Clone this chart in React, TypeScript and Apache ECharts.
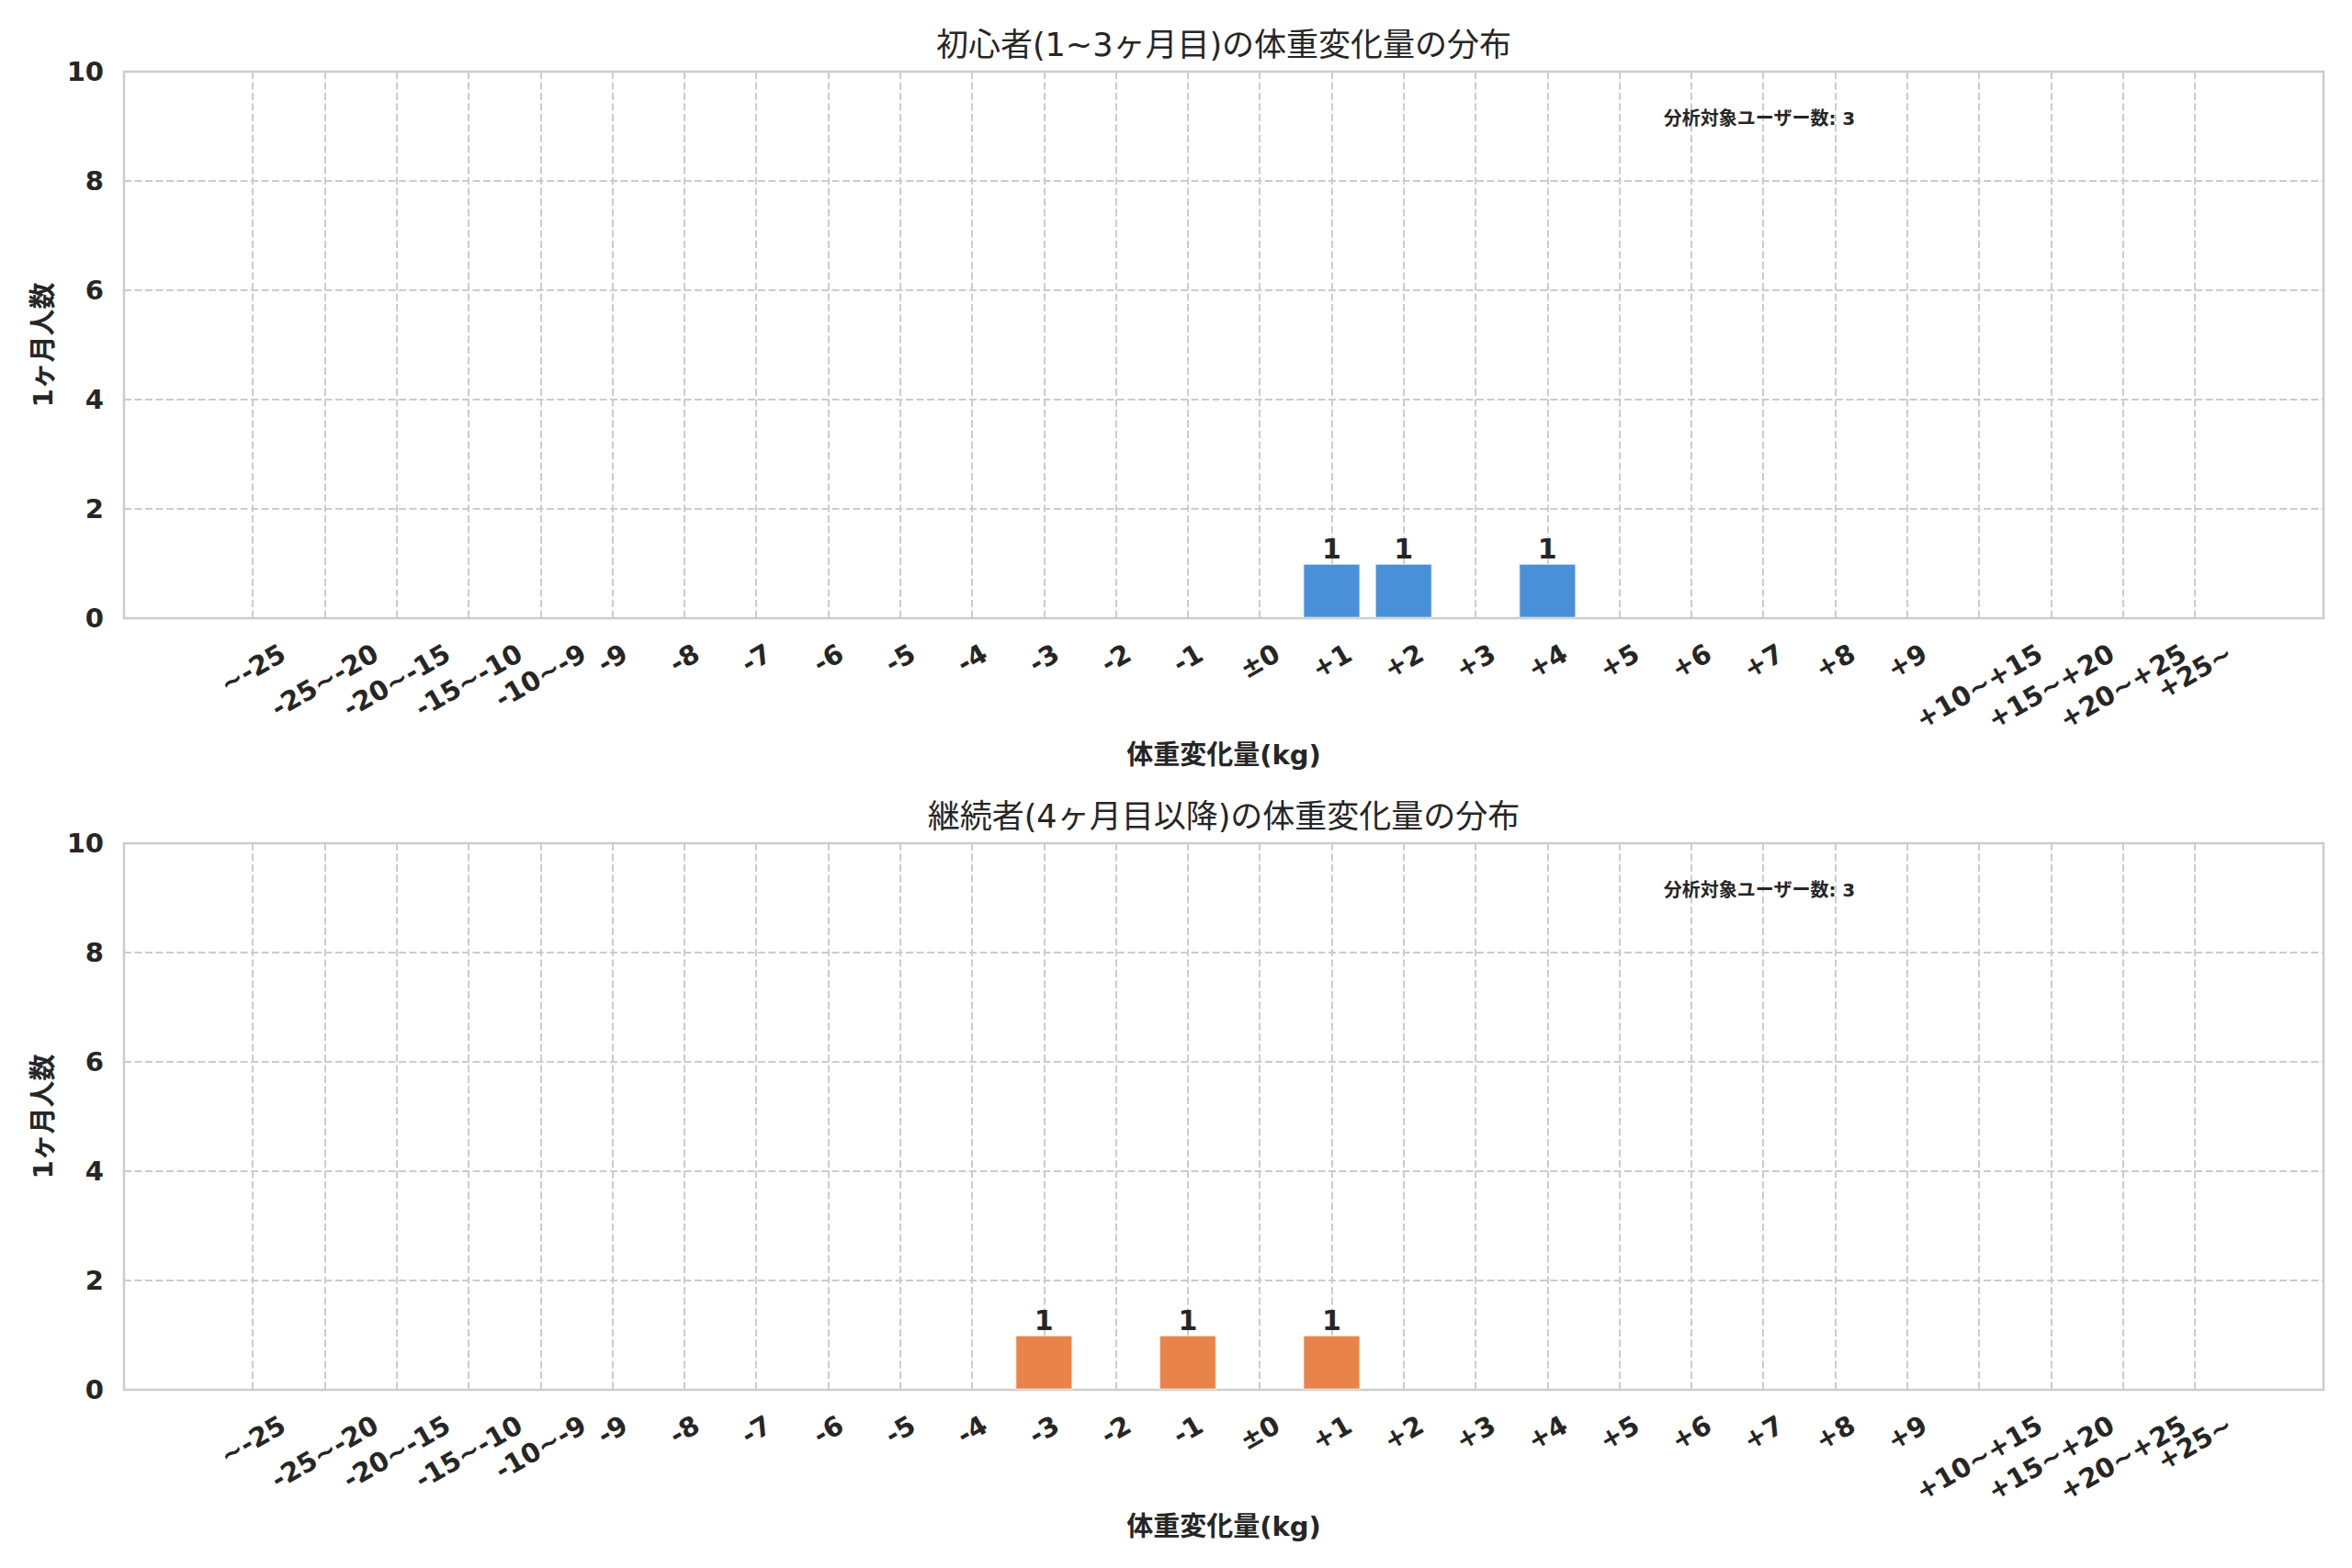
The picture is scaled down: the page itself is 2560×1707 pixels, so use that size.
import React, { useEffect, useRef } from 'react';
import * as echarts from 'echarts';

// ---- data ----
const categories = [
  '~-25', '-25~-20', '-20~-15', '-15~-10', '-10~-9',
  '-9', '-8', '-7', '-6', '-5', '-4', '-3', '-2', '-1',
  '±0',
  '+1', '+2', '+3', '+4', '+5', '+6', '+7', '+8', '+9',
  '+10~+15', '+15~+20', '+20~+25', '+25~',
];
const beginnerCounts = [0, 0, 0, 0, 0, 0, 0, 0, 0, 0, 0, 0, 0, 0, 0, 1, 1, 0, 1, 0, 0, 0, 0, 0, 0, 0, 0, 0];
const continuingCounts = [0, 0, 0, 0, 0, 0, 0, 0, 0, 0, 0, 1, 0, 1, 0, 1, 0, 0, 0, 0, 0, 0, 0, 0, 0, 0, 0, 0];
const panelCounts = [beginnerCounts, continuingCounts];
const panelTitles = [
  '初心者(1~3ヶ月目)の体重変化量の分布',
  '継続者(4ヶ月目以降)の体重変化量の分布',
];
const userTotals = [3, 3];
const annotationLabel = '分析対象ユーザー数';
const xAxisTitle = '体重変化量(kg)';
const yAxisTitle = '1ヶ月人数';
const yMin = 0;
const yMax = 10;
const yInterval = 2;
const barColors = ['#4A90D9', '#E8844A'];

// ---- layout / style ----
const W = 2560;
const H = 1707;
const GRID_LEFT = 135;
const GRID_WIDTH = 2394;
const GRID_HEIGHT = 595;
const GRID_TOPS = [78, 918];
const X_MIN = -1.79;
const X_MAX = 28.79;
const FONT = "'DejaVu Sans', 'Noto Sans CJK JP', sans-serif";
const TEXT = '#262626';
const GRID_COLOR = '#cccccc';
const TICK_FONT = 29;
const LABEL_PAD = 21;
const ROT = Math.PI / 6;

function measure(text: string, size: number): number {
  const c = document.createElement('canvas');
  const ctx = c.getContext('2d');
  if (!ctx) return text.length * size * 0.6;
  ctx.font = `bold ${size}px ${FONT}`;
  return ctx.measureText(text).width;
}

export default function App() {
  const ref = useRef<HTMLDivElement>(null);

  useEffect(() => {
    if (!ref.current) return;
    const chart = echarts.init(ref.current, null, { renderer: 'svg', width: W, height: H });
    const barWidth = (0.8 * GRID_WIDTH) / (X_MAX - X_MIN);
    const idx = categories.map((_, i) => i);

    const option: any = {
      animation: false,
      backgroundColor: '#ffffff',
      title: panelTitles.map((t, p) => ({
        text: t,
        left: GRID_LEFT + GRID_WIDTH / 2,
        top: GRID_TOPS[p] - 47,
        textAlign: 'center',
        padding: 0,
        textStyle: { fontFamily: FONT, fontSize: 35, fontWeight: 'normal', color: TEXT, lineHeight: 36 },
      })),
      grid: GRID_TOPS.map((top) => ({
        left: GRID_LEFT,
        top,
        width: GRID_WIDTH,
        height: GRID_HEIGHT,
        show: true,
        borderColor: GRID_COLOR,
        borderWidth: 2.5,
        backgroundColor: 'transparent',
        containLabel: false,
      })),
      xAxis: GRID_TOPS.map((_, p) => ({
        type: 'value',
        gridIndex: p,
        min: X_MIN,
        max: X_MAX,
        axisLine: { show: false },
        axisTick: { show: false, customValues: idx },
        axisLabel: { show: false, customValues: idx },
        splitLine: { show: true, lineStyle: { color: GRID_COLOR, width: 2, type: [8, 3.5] } },
        name: xAxisTitle,
        nameLocation: 'middle',
        nameGap: 134,
        nameTextStyle: { fontFamily: FONT, fontSize: 29, fontWeight: 'bold', color: TEXT, verticalAlign: 'top' },
      })),
      yAxis: GRID_TOPS.map((_, p) => ({
        type: 'value',
        gridIndex: p,
        min: yMin,
        max: yMax,
        interval: yInterval,
        axisLine: { show: false },
        axisTick: { show: false },
        axisLabel: { fontFamily: FONT, fontSize: TICK_FONT, fontWeight: 'bold', color: TEXT, margin: 22 },
        splitLine: { show: true, lineStyle: { color: GRID_COLOR, width: 2, type: [8, 3.5] } },
        name: yAxisTitle,
        nameLocation: 'middle',
        nameRotate: 90,
        nameGap: 72,
        nameTextStyle: { fontFamily: FONT, fontSize: 29, fontWeight: 'bold', color: TEXT },
      })),
      series: panelCounts.map((counts, p) => ({
        type: 'bar',
        xAxisIndex: p,
        yAxisIndex: p,
        barWidth,
        data: counts.map((v, i) =>
          v > 0 ? { value: [i, v] } : { value: [i, v], itemStyle: { borderWidth: 0, opacity: 0 } }
        ),
        itemStyle: { color: barColors[p], borderColor: 'rgba(255,255,255,0.55)', borderWidth: 1.5 },
        label: {
          show: true,
          position: 'top',
          distance: 1,
          formatter: (prm: any) => (prm.value[1] > 0 ? String(prm.value[1]) : ''),
          fontFamily: FONT,
          fontSize: 30,
          fontWeight: 'bold',
          color: TEXT,
        },
      })),
    };
    chart.setOption(option);

    const hText = TICK_FONT * 1.17;
    const graphics: any[] = [];
    panelCounts.forEach((_, p) => {
      const axisBottom = GRID_TOPS[p] + GRID_HEIGHT;
      categories.forEach((cat, i) => {
        const x = chart.convertToPixel({ xAxisIndex: p } as any, i) as unknown as number;
        const w = measure(cat, TICK_FONT);
        const bboxH = w * Math.sin(ROT) + hText * Math.cos(ROT);
        graphics.push({
          type: 'text',
          x,
          y: axisBottom + LABEL_PAD + bboxH / 2,
          rotation: ROT,
          silent: true,
          style: {
            text: cat,
            fontFamily: FONT,
            fontSize: TICK_FONT,
            fontWeight: 'bold',
            fill: TEXT,
            align: 'center',
            verticalAlign: 'middle',
          },
        });
      });
      graphics.push({
        type: 'text',
        x: GRID_LEFT + 0.7 * GRID_WIDTH,
        y: GRID_TOPS[p] + 51,
        silent: true,
        style: {
          text: `${annotationLabel}: ${userTotals[p]}`,
          fontFamily: FONT,
          fontSize: 20,
          fontWeight: 'bold',
          fill: TEXT,
          align: 'left',
          verticalAlign: 'middle',
        },
      });
    });
    chart.setOption({ graphic: graphics });

    return () => chart.dispose();
  }, []);

  return <div ref={ref} style={{ position: 'absolute', left: 0, top: 0, width: W, height: H, background: '#fff' }} />;
}
